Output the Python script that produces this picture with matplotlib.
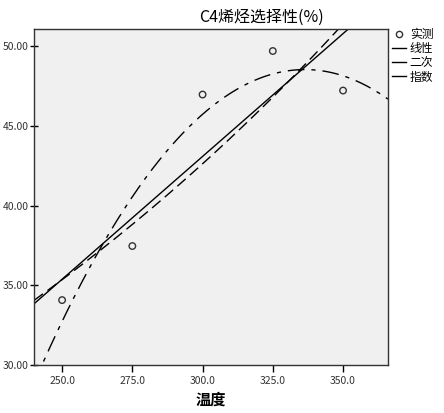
import numpy as np
import matplotlib
matplotlib.use("Agg")
import matplotlib.pyplot as plt
from matplotlib.lines import Line2D

plt.rcParams['font.family'] = ['Noto Sans CJK SC', 'DejaVu Sans']

temps = [250, 275, 300, 325, 350]
selectivity = [34.07, 37.46, 46.96, 49.69, 47.21]
x_ticks = [250, 275, 300, 325, 350]
y_ticks = [30, 35, 40, 45, 50]
title = "C4烯烃选择性(%)"
xlabel = "温度"
legend_labels = ["实测", "线性", "二次", "指数"]

x = np.array(temps, dtype=float)
y = np.array(selectivity, dtype=float)
xs = np.linspace(240, 366, 300)

lin = np.polyfit(x, y, 1)
quad = np.polyfit(x, y, 2)
expc = np.polyfit(x, np.log(y), 1)

fig = plt.figure(figsize=(4.44, 4.13), dpi=100)
ax = fig.add_axes([34/444, 48/413, (388-34)/444, (365-29)/413])
ax.set_facecolor('#f0f0f0')

ax.plot(xs, np.polyval(lin, xs), color='black', lw=1.0, solid_capstyle='butt')
ax.plot(xs, np.polyval(quad, xs), color='black', lw=1.0, dashes=(12, 5, 3, 5))
ax.plot(xs, np.exp(np.polyval(expc, xs)), color='black', lw=1.0, dashes=(8, 4))
ax.scatter(x, y, s=22, facecolors='none', edgecolors='#333333', linewidths=1.0, zorder=3)

ax.set_xlim(240, 366)
ax.set_ylim(30, 51.07)
ax.set_xticks(x_ticks)
ax.set_xticklabels([f"{v:.1f}" for v in x_ticks], fontsize=7.5, color='#333333')
ax.set_yticks(y_ticks)
ax.set_yticklabels([f"{v:.2f}" for v in y_ticks], fontsize=7.5, color='#333333')
ax.tick_params(axis='x', direction='out', length=5, width=1, pad=3)
ax.tick_params(axis='y', direction='inout', length=6, width=1, pad=1)
for s in ax.spines.values():
    s.set_color('#333333')
    s.set_linewidth(1.0)

ax.set_xlabel(xlabel, fontsize=11, fontweight='bold', labelpad=4)
fig.text(262/444, 1 - 17/413, title, ha='center', va='center', fontsize=11.5)

handles = [
    Line2D([], [], marker='o', ls='none', mfc='none', mec='#333333', ms=4.5),
    Line2D([], [], color='black', lw=1.0),
    Line2D([], [], color='black', lw=1.0),
    Line2D([], [], color='black', lw=1.0),
]
fig.legend(handles, legend_labels, loc='upper left', bbox_to_anchor=(392/444, 1 - 28/413),
           frameon=False, fontsize=8.5, handlelength=1.2, handletextpad=0.3,
           labelspacing=0.1, borderpad=0, borderaxespad=0)

fig.savefig("out.png", dpi=100)
